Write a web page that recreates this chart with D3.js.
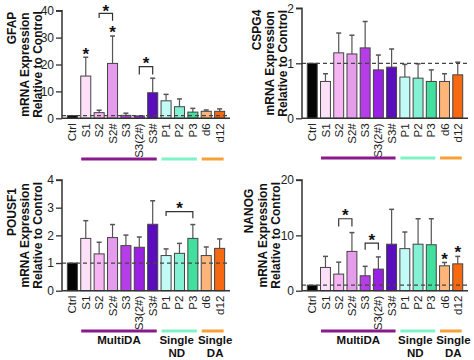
<!DOCTYPE html>
<html><head><meta charset="utf-8">
<script src="https://cdn.jsdelivr.net/npm/d3@7"></script>
<style>
body{margin:0;background:#fff;}
svg{display:block;font-family:"Liberation Sans",Arial,sans-serif;}
</style></head>
<body><svg id="c" width="474" height="360"></svg>
<script>
const categories = ["Ctrl","S1","S2","S2#","S3","S3(2#)","S3#","P1","P2","P3","d6","d12"];
const barColors = ["#050505","#fbe0f8","#f8b5f3","#e59ced","#b63ee8","#9a20e4","#5a0dbd","#c2fbf5","#85f1d4","#42df9f","#fdb57a","#f76910"];
const genes = ["GFAP","CSPG4","POUSF1","NANOG"];
const gfapMean = [1,15.7,2.1,20.4,1.1,0.9,9.5,6.5,4.3,2.3,2.6,2.6];
const gfapErr  = [1,22.7,3.0,30.6,1.9,0.9,14.9,8.9,7.2,3.7,3.1,3.5];
const cspg4Mean = [1,0.67,1.19,1.17,1.28,0.88,0.93,0.75,0.73,0.67,0.67,0.79];
const cspg4Err  = [1,0.81,1.55,1.51,1.76,1.15,1.26,0.98,0.99,0.88,0.81,1.02];
const pou5f1Mean = [1,1.89,1.33,1.92,1.63,1.57,2.40,1.27,1.35,1.89,1.27,1.53];
const pou5f1Err  = [1,2.53,1.75,2.39,2.01,1.94,3.25,1.51,1.71,2.39,1.58,1.87];
const nanogMean = [1,4.2,3.0,7.1,2.7,3.9,8.4,7.6,8.4,8.3,4.5,4.85];
const nanogErr  = [1,6.2,5.15,10.5,4.4,6.1,14.7,10.6,13.0,13.0,5.1,6.2];
const yMax = [40,2,4,20];
const yTicks = [[0,10,20,30,40],[0,1,2],[0,1,2,3,4],[0,10,20]];
const groupNames = [["MultiDA"],["Single","ND"],["Single","DA"]];
const groupFrom = ["S1","P1","d6"];
const groupTo = ["S3#","P3","d12"];
const groupColors = ["#8a1a8c","#80f2c8","#f7a035"];
// brackets: [panel, from, to, barValue, legLeft, legRight]
const brackets = [[0,"S2","S2#",39.0,37.3,36.3],[0,"S3(2#)","S3#",19.2,16.3,16.3],[2,"P1","P3",2.86,2.7,2.62],[3,"S2","S2#",13.0,11.6,11.6],[3,"S3","S3(2#)",8.6,7.4,7.4]];
// stars: [panel, category or pair, value]
const stars = [[0,"S1",null,24.4],[0,"S2#",null,32.6],[0,"S2","S2#",40.6],[0,"S3(2#)","S3#",21.3],[2,"P1","P3",3.03],[3,"S2","S2#",13.9],[3,"S3","S3(2#)",9.4],[3,"d6",null,6.0],[3,"d12",null,7.2]];

const means = [gfapMean,cspg4Mean,pou5f1Mean,nanogMean];
const errs = [gfapErr,cspg4Err,pou5f1Err,nanogErr];
const layout = [
  {x0:62,x1:230,yb:118.3,yt:10.7,lx:[12,25,38],geneY:28,grpY:159,showGroupText:false},
  {x0:302,x1:468,yb:118.3,yt:8.3,lx:[257,270,283],geneY:30,grpY:158,showGroupText:false},
  {x0:62,x1:230,yb:290.7,yt:180,lx:[12,25,38],geneY:212,grpY:331,showGroupText:true},
  {x0:302,x1:468,yb:290.7,yt:180,lx:[249,263,276],geneY:211,grpY:331,showGroupText:true}
];
const textShift = [0,-2.5,2.5];
const svg = d3.select("#c");
const axisCol = "#333";
layout.forEach((L,pi)=>{
  const g = svg.append("g");
  const x = d3.scaleBand().domain(categories).range([L.x0,L.x1]).paddingInner(0.25).paddingOuter(0.4);
  const y = d3.scaleLinear().domain([0,yMax[pi]]).range([L.yb,L.yt]);
  const data = categories.map((c,i)=>({c,m:means[pi][i],e:errs[pi][i],col:barColors[i]}));
  // error bars
  g.selectAll("line.err").data(data.filter(d=>d.e>d.m)).join("line")
    .attr("x1",d=>x(d.c)+x.bandwidth()/2).attr("x2",d=>x(d.c)+x.bandwidth()/2)
    .attr("y1",d=>y(d.m)).attr("y2",d=>y(d.e)).attr("stroke","#555").attr("stroke-width",1.2);
  g.selectAll("line.cap").data(data.filter(d=>d.e>d.m)).join("line")
    .attr("x1",d=>x(d.c)+x.bandwidth()/2-2.5).attr("x2",d=>x(d.c)+x.bandwidth()/2+2.5)
    .attr("y1",d=>y(d.e)).attr("y2",d=>y(d.e)).attr("stroke","#555").attr("stroke-width",1.5);
  // bars
  g.selectAll("rect").data(data).join("rect")
    .attr("x",d=>x(d.c)).attr("width",x.bandwidth())
    .attr("y",d=>y(d.m)).attr("height",d=>y(0)-y(d.m))
    .attr("fill",d=>d.col).attr("stroke","#444").attr("stroke-width",1);
  // dashed line at 1
  g.append("line").attr("x1",L.x0).attr("x2",L.x1).attr("y1",y(1)).attr("y2",y(1))
    .attr("stroke","#444").attr("stroke-width",1.2).attr("stroke-dasharray","4,3");
  // y axis
  const ya = d3.axisLeft(y).tickValues(yTicks[pi]).tickSize(6).tickPadding(2).tickFormat(d3.format("d"));
  const yg = g.append("g").attr("transform",`translate(${L.x0},0)`).call(ya);
  yg.select(".domain").attr("stroke",axisCol).attr("stroke-width",1.5).attr("d",`M-6,${L.yt}H0V${L.yb}`);
  yg.selectAll(".tick line").attr("stroke",axisCol).attr("stroke-width",1.3);
  yg.selectAll(".tick text").attr("font-size",12).attr("fill","#222").attr("font-family","Liberation Sans,Arial");
  // x axis
  const xa = d3.axisBottom(x).tickSize(0).tickPadding(0);
  const xg = g.append("g").attr("transform",`translate(0,${L.yb})`).call(xa);
  xg.select(".domain").attr("stroke",axisCol).attr("stroke-width",1.5).attr("d",`M${L.x0},0H${L.x1}`);
  xg.selectAll(".tick text").attr("font-size",11.5).attr("fill","#222").attr("font-family","Liberation Sans,Arial")
    .attr("text-anchor","end").attr("transform","rotate(-90)").attr("x",-5).attr("y",0).attr("dy","0.35em");
  // y labels
  const midY = (L.yb+L.yt)/2;
  const lbl = [genes[pi],"mRNA Expression","Relative to Control"];
  lbl.forEach((t,k)=>{
    const cy = k===0 ? L.geneY : midY;
    g.append("text").attr("transform",`translate(${L.lx[k]},${cy}) rotate(-90)`)
      .attr("text-anchor","middle").attr("dy","0.35em").attr("font-size",12).attr("font-weight","bold")
      .attr("fill","#111").text(t);
  });
  // group lines
  groupFrom.forEach((f,k)=>{
    const a = x(f)+0.5, b = x(groupTo[k])+x.bandwidth()-1;
    g.append("line").attr("x1",a).attr("x2",b).attr("y1",L.grpY).attr("y2",L.grpY)
      .attr("stroke",groupColors[k]).attr("stroke-width",3);
    if(L.showGroupText){
      groupNames[k].forEach((t,j)=>{
        g.append("text").attr("x",(a+b)/2+textShift[k]).attr("y",L.grpY+13+j*13).attr("text-anchor","middle")
          .attr("font-size",11.5).attr("font-weight","bold").attr("fill","#111").text(t);
      });
    }
  });
  // brackets
  brackets.filter(b=>b[0]===pi).forEach(b=>{
    const a = x(b[1])+x.bandwidth()/2, c = x(b[2])+x.bandwidth()/2;
    g.append("path").attr("d",`M${a},${y(b[4])}V${y(b[3])}H${c}V${y(b[5])}`)
      .attr("fill","none").attr("stroke","#333").attr("stroke-width",1.2);
  });
  // stars
  stars.filter(s=>s[0]===pi).forEach(s=>{
    const cx = s[2] ? (x(s[1])+x(s[2]))/2+x.bandwidth()/2 : x(s[1])+x.bandwidth()/2;
    g.append("text").attr("x",cx).attr("y",y(s[3])+7.5).attr("text-anchor","middle")
      .attr("font-size",17).attr("font-weight","bold").attr("fill","#111").text("*");
  });
});
</script></body></html>
